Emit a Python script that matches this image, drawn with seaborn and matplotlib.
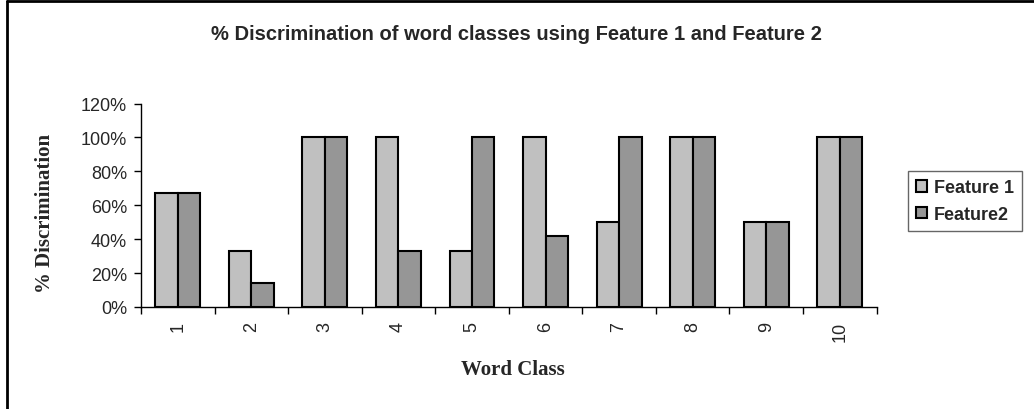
import matplotlib
matplotlib.use('Agg')
import matplotlib.pyplot as plt
import matplotlib.ticker as mticker
from matplotlib.lines import Line2D
import pandas as pd
import seaborn as sns

# data
word_class = ['1', '2', '3', '4', '5', '6', '7', '8', '9', '10']
feature_1 = [67, 33, 100, 100, 33, 100, 50, 100, 50, 100]
feature_2 = [67, 14, 100, 33, 100, 42, 100, 100, 50, 100]
series_names = ['Feature 1', 'Feature2']
series_colors = ['#C0C0C0', '#969696']

df = pd.DataFrame({
    'word_class': word_class * 2,
    'value': feature_1 + feature_2,
    'series': [series_names[0]] * len(word_class) + [series_names[1]] * len(word_class),
})

sns.set_style('white')

fig = plt.figure(figsize=(10.34, 4.10), dpi=100)
ax = fig.add_axes([0.1364, 0.2488, 0.7113, 0.4962])

sns.barplot(data=df, x='word_class', y='value', hue='series',
            palette=series_colors, width=0.61, gap=0,
            edgecolor='black', linewidth=1.5, ax=ax)

# y axis as percent
ax.set_ylim(0, 120)
ax.yaxis.set_major_locator(mticker.MultipleLocator(20))
ax.yaxis.set_major_formatter(mticker.FuncFormatter(lambda v, p: f'{int(v)}%'))
ax.tick_params(axis='y', direction='out', length=5, width=1, color='black',
               labelsize=13, pad=5, left=True)
for t in ax.get_yticklabels():
    t.set_fontfamily('Liberation Sans')

# x axis: labels at centres, ticks between groups
ax.set_xlim(-0.5, len(word_class) - 0.5)
ax.set_xticks(range(len(word_class)))
ax.set_xticklabels(word_class, rotation=90, fontfamily='Liberation Sans', fontsize=13)
ax.tick_params(axis='x', which='major', length=0, pad=10)
ax.set_xticks([i - 0.5 for i in range(len(word_class) + 1)], minor=True)
ax.tick_params(axis='x', which='minor', direction='out', length=5, width=1,
               color='black', bottom=True)

for s in ['top', 'right']:
    ax.spines[s].set_visible(False)
for s in ['left', 'bottom']:
    ax.spines[s].set_color('black')
    ax.spines[s].set_linewidth(1)

# axis titles placed in figure coordinates
ax.set_xlabel('')
ax.set_ylabel('')
fig.text(0.496, 0.0976, 'Word Class', ha='center', va='center',
         fontfamily='Liberation Serif', fontweight='bold', fontsize=15)
fig.text(0.0435, 0.479, '% Discrimination', ha='center', va='center', rotation=90,
         fontfamily='Liberation Serif', fontweight='bold', fontsize=15)

fig.text(0.499, 0.915, '% Discrimination of word classes using Feature 1 and Feature 2',
         ha='center', va='center', fontfamily='Liberation Sans', fontweight='bold',
         fontsize=14.5)

# legend
handles, labels = ax.get_legend_handles_labels()
ax.get_legend().remove()
leg = fig.legend(handles, labels, loc='center left', bbox_to_anchor=(0.869, 0.507),
                 frameon=True, fancybox=False, edgecolor='#404040',
                 prop={'family': 'Liberation Sans', 'weight': 'bold', 'size': 13},
                 handlelength=0.6, handleheight=0.6, handletextpad=0.4,
                 labelspacing=0.55, borderpad=0.45)
leg.get_frame().set_linewidth(1)

# chart area frame (top and left edges visible)
fig.add_artist(Line2D([7 / 1034, 1], [1 - 2 / 410, 1 - 2 / 410], color='black', lw=2,
                      transform=fig.transFigure))
fig.add_artist(Line2D([7 / 1034, 7 / 1034], [0, 1 - 2 / 410], color='black', lw=2,
                      transform=fig.transFigure))

fig.savefig('out.png', dpi=100)
